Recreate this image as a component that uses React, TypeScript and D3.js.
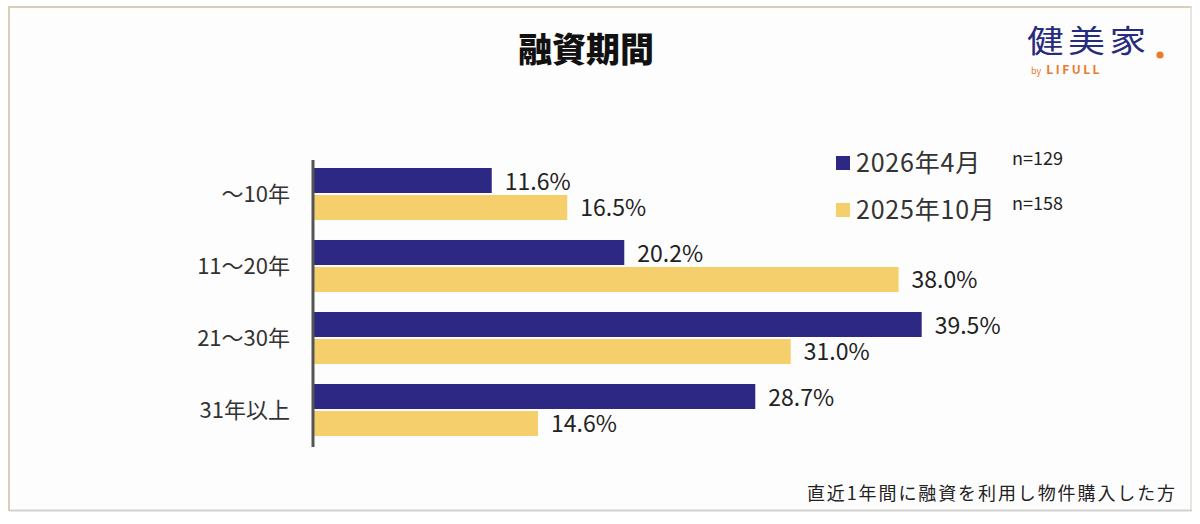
import React from 'react';
import * as d3 from 'd3';

// 融資期間の分布（回答者の割合, %）
const categories = ['～10年', '11～20年', '21～30年', '31年以上'];
const seriesNames = ['2026年4月', '2025年10月'];
const sampleSizes = ['n=129', 'n=158'];
const values2026Apr = [11.6, 20.2, 39.5, 28.7];
const values2025Oct = [16.5, 38.0, 31.0, 14.6];

const W = 1200;
const H = 524;
const NAVY = '#2d2884';
const YELLOW = '#f5cf6c';
const JP = '"Noto Sans CJK JP", "Noto Sans", sans-serif';

const App = () => {
  const seriesValues = [values2026Apr, values2025Oct];
  const colors = [NAVY, YELLOW];

  const x = d3.scaleLinear().domain([0, 40]).range([313, 929.4]);
  const y = d3
    .scaleBand<string>()
    .domain(categories)
    .range([158, 446])
    .paddingInner(20 / 72)
    .paddingOuter(10 / 72);
  const ySub = d3
    .scaleBand<string>()
    .domain(seriesNames)
    .range([0, y.bandwidth()]);

  return (
    <svg
      width={W}
      height={H}
      style={{ position: 'absolute', left: 0, top: 0, background: '#fff' }}
    >
      {/* 枠 */}
      <rect x={9} y={7} width={1182} height={503} fill="#fefdfd" />
      <line x1={9} y1={6} x2={9} y2={511} stroke="#dccdb9" strokeWidth={2} />
      <line x1={8} y1={7} x2={1192} y2={7} stroke="#dccdb9" strokeWidth={2} />
      <line x1={1191} y1={6} x2={1191} y2={511} stroke="#e2dcd3" strokeWidth={1.5} />
      <line x1={9} y1={510.5} x2={1192} y2={510.5} stroke="#d4d2d0" strokeWidth={2} />

      {/* タイトル */}
      <text
        x={586}
        y={62}
        textAnchor="middle"
        fontFamily={JP}
        fontWeight={900}
        fontSize={34}
        fill="#111"
      >
        融資期間
      </text>

      {/* ロゴ */}
      <text
        x={0}
        y={52}
        fontFamily={JP}
        fontSize={31}
        fill="#262b7e"
        letterSpacing={4}
        transform="translate(1027,0) scale(1.18,1)"
      >
        健美家
      </text>
      <circle cx={1160} cy={55} r={3.6} fill="#ea7b2a" />
      <text x={1031} y={74} fontFamily={JP} fill="#ea7b2a">
        <tspan fontSize={9}>by </tspan>
        <tspan dx={3} fontSize={12} fontWeight={700} letterSpacing={2.5}>
          LIFULL
        </tspan>
      </text>

      {/* 棒 */}
      {categories.map((c, i) =>
        seriesNames.map((s, j) => {
          const v = seriesValues[j][i];
          const y0 = (y(c) ?? 0) + (ySub(s) ?? 0);
          const h = ySub.bandwidth();
          return (
            <g key={`${c}-${s}`}>
              <rect
                x={x(0)}
                y={y0 + (j === 1 ? 1 : 0)}
                width={x(v) - x(0)}
                height={h - 1}
                fill={colors[j]}
              />
              <text
                x={x(v) + 13}
                y={y0 + h / 2 + 9}
                fontFamily={JP}
                fontSize={23}
                fill="#222"
              >
                {v.toFixed(1)}%
              </text>
            </g>
          );
        })
      )}

      {/* 軸 */}
      <line x1={x(0)} y1={160} x2={x(0)} y2={447} stroke="#555" strokeWidth={3} />
      {categories.map((c) => (
        <text
          key={c}
          x={290}
          y={(y(c) ?? 0) + y.bandwidth() / 2 + 8}
          textAnchor="end"
          fontFamily={JP}
          fontSize={22}
          fill="#333"
        >
          {c}
        </text>
      ))}

      {/* 凡例 */}
      {seriesNames.map((s, j) => {
        const ly = 163 + j * 47;
        return (
          <g key={s}>
            <rect x={836} y={ly - 7} width={14} height={14} fill={colors[j]} />
            <text x={856} y={ly + 9} fontFamily={JP} fontSize={25} letterSpacing={0.8} fill="#333">
              {s}
            </text>
            <text x={1012} y={ly + 2 - j * 2} fontFamily={JP} fontSize={18} fill="#222">
              {sampleSizes[j]}
            </text>
          </g>
        );
      })}

      {/* 注記 */}
      <text
        x={1177}
        y={500}
        textAnchor="end"
        fontFamily={JP}
        fontSize={18}
        letterSpacing={1.9}
        fill="#222"
      >
        直近1年間に融資を利用し物件購入した方
      </text>
    </svg>
  );
};

export default App;
